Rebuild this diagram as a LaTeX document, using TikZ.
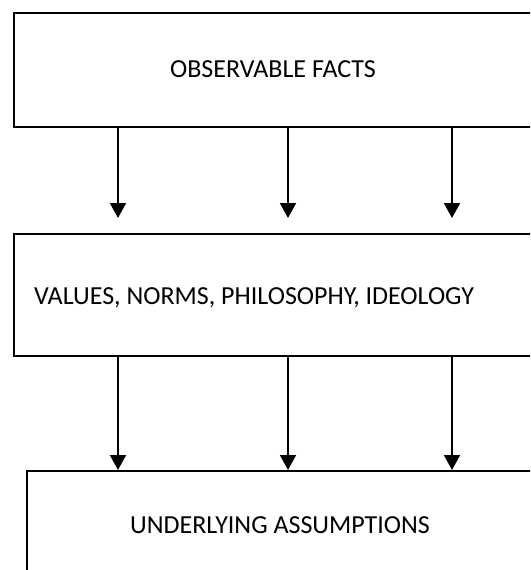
\documentclass[tikz,border=0pt]{standalone}
\usepackage{fontspec}
\setmainfont{Carlito}
\usetikzlibrary{arrows.meta}
\begin{document}
\begin{tikzpicture}[x=1pt,y=-1pt,
  box/.style={draw=black,line width=2pt,rectangle,inner sep=0pt,anchor=north west},
  label/.style={font=\fontsize{26}{31}\selectfont,inner sep=0pt},
  arr/.style={line width=2pt,-{Triangle[width=16pt,length=15pt]}}]
\useasboundingbox (0,0) rectangle (530,570);
\clip (0,0) rectangle (530,570);
% three stacked boxes
\node[box,minimum width=520pt,minimum height=114pt] (top) at (13,12) {};
\node[box,minimum width=520pt,minimum height=122pt] (mid) at (13,233) {};
\node[box,minimum width=508pt,minimum height=130pt] (bot) at (26,470) {};
% box texts
\node[label] (ttop) at (273,69) {OBSERVABLE FACTS};
\node[label,anchor=west] (tmid) at (34,298) {VALUES, NORMS, PHILOSOPHY, IDEOLOGY};
\node[label] (tbot) at (280,525) {UNDERLYING ASSUMPTIONS};
% arrow ends above the middle box
\coordinate (e1) at (118,218);
\coordinate (e2) at (288,218);
\coordinate (e3) at (452,218);
% arrows from facts towards values
\draw[arr] (top.south -| e1) -- (e1);
\draw[arr] (top.south -| e2) -- (e2);
\draw[arr] (top.south -| e3) -- (e3);
% arrows from values to assumptions
\draw[arr] (mid.south -| e1) -- (bot.north -| e1);
\draw[arr] (mid.south -| e2) -- (bot.north -| e2);
\draw[arr] (mid.south -| e3) -- (bot.north -| e3);
\end{tikzpicture}
\end{document}
